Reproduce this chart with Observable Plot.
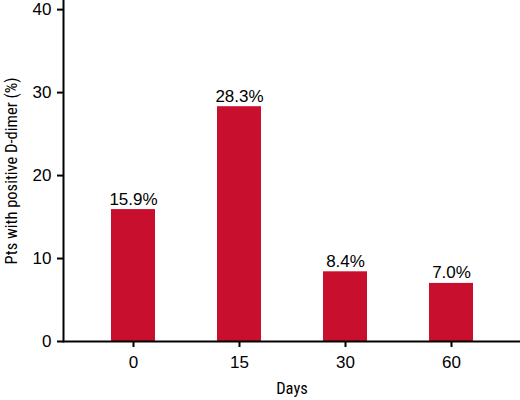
<!DOCTYPE html>
<html>
<head>
<meta charset="utf-8">
<script src="https://cdn.jsdelivr.net/npm/d3@7"></script>
<script src="https://cdn.jsdelivr.net/npm/@observablehq/plot@0.6"></script>
<style>
  body { margin: 0; background: #fff; }
  #chart svg { display: block; }
</style>
</head>
<body>
<div id="chart"></div>
<script>
// values
const days = ["0", "15", "30", "60"];
const positivePct = [15.9, 28.3, 8.4, 7.0];
const yTicks = [0, 10, 20, 30, 40];

const BAR_RED = "#c8102e";
const SANS = "'Liberation Sans', Arimo, Arial, sans-serif";
const NARROW = "'Roboto Condensed', 'Liberation Sans', sans-serif";

const rows = days.map((d, i) => ({ day: d, pct: positivePct[i] }));

const chart = Plot.plot({
  width: 520,
  height: 400,
  marginLeft: 63,
  marginRight: 0,
  marginTop: 0,
  marginBottom: 59,
  style: { fontFamily: SANS, fontSize: "17px", color: "#000" },
  x: { type: "band", domain: days, paddingInner: 0.585, paddingOuter: 0.448 },
  y: { domain: [0, 41.1] },
  marks: [
    Plot.barY(rows, { x: "day", y: "pct", fill: BAR_RED }),
    Plot.text(rows, {
      x: "day",
      y: "pct",
      text: (d) => d.pct.toFixed(1) + "%",
      lineAnchor: "bottom",
      dy: -5,
      fontSize: 17,
      fill: "#000"
    }),
    Plot.axisY({ ticks: yTicks, tickSize: 6, tickPadding: 6, strokeWidth: 2, label: null, fontSize: 17 }),
    Plot.axisX({ tickSize: 6, tickPadding: 8, strokeWidth: 2, label: null, fontSize: 17 }),
    Plot.frame({ anchor: "left", stroke: "#000", strokeWidth: 2 }),
    Plot.ruleY([0], { stroke: "#000", strokeWidth: 2 }),
    Plot.text(["Days"], {
      frameAnchor: "bottom",
      dy: 47,
      lineAnchor: "middle",
      fontFamily: NARROW,
      fontSize: 16.5,
      fill: "#000"
    }),
    Plot.text(["Pts with positive D-dimer (%)"], {
      frameAnchor: "left",
      textAnchor: "middle",
      dx: -52,
      rotate: -90,
      lineAnchor: "middle",
      fontFamily: NARROW,
      fontSize: 16.5,
      fill: "#000"
    })
  ]
});

document.getElementById("chart").append(chart);
</script>
</body>
</html>
